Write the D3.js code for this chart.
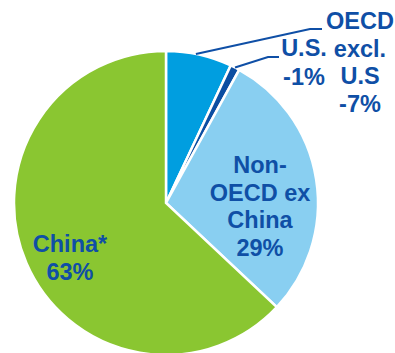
<!DOCTYPE html>
<html><head><meta charset="utf-8">
<script src="https://cdn.jsdelivr.net/npm/d3@7"></script>
<style>html,body{margin:0;padding:0;background:#fff;}svg{display:block;}</style>
</head><body>
<svg id="c" width="395" height="353"></svg>
<script>
const categories = ["OECD excl. U.S", "U.S.", "Non-OECD ex China", "China*"];
const values = [7, 1, 29, 63];
const valueLabels = ["-7%", "-1%", "29%", "63%"];
const colors = ["#009ee0", "#0b4ea2", "#89cff1", "#8ac631"];

const svg = d3.select("#c");
const cx = 166, cy = 203, R = 152;
const g = svg.append("g").attr("transform", `translate(${cx},${cy})`);
const pie = d3.pie().sort(null).value(d => d)(values);
const arc = d3.arc().innerRadius(0).outerRadius(R);
g.selectAll("path").data(pie).enter().append("path")
  .attr("d", arc).attr("fill", (d,i) => colors[i])
  .attr("stroke", "#fff").attr("stroke-width", 2.5).attr("stroke-linejoin","miter");

const txt = "#0f4fa6";
const font = "'Liberation Sans', Arial, sans-serif";
function label(lines, x, y0, dy) {
  const t = svg.append("text").attr("text-anchor", "middle")
    .attr("font-family", font).attr("font-weight", "bold").attr("font-size", 23.5)
    .attr("fill", txt);
  lines.forEach((s, i) => t.append("tspan").attr("x", x).attr("y", y0 + i * dy).text(s));
}
// leader lines
function edgePoint(d, frac) {
  const a = d.startAngle + (d.endAngle - d.startAngle) * frac;
  return [cx + Math.sin(a) * R, cy - Math.cos(a) * R];
}
const p0 = edgePoint(pie[0], 0.45);
svg.append("polyline").attr("points", [p0, [310, 29], [322, 29]].map(p => p.join(",")).join(" "))
  .attr("fill", "none").attr("stroke", txt).attr("stroke-width", 2);
const p1 = edgePoint(pie[1], 0.5);
svg.append("polyline").attr("points", [p1, [268, 57], [279, 57]].map(p => p.join(",")).join(" "))
  .attr("fill", "none").attr("stroke", txt).attr("stroke-width", 2);

label(["OECD", "excl.", "U.S", valueLabels[0]], 360, 29, 27.7);
label(["U.S.", valueLabels[1]], 304, 56, 28.5);
label(["Non-", "OECD ex", "China", valueLabels[2]], 260, 173, 27.7);
label(["China*", valueLabels[3]], 70, 252, 28);
</script>
</body></html>
